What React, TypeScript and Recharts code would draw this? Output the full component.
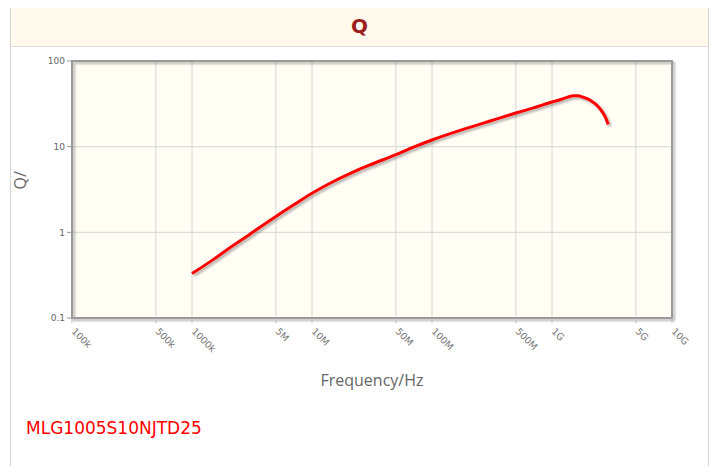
import { LineChart, Line, XAxis, YAxis, CartesianGrid, ReferenceArea, Label } from 'recharts';

const freqs = [1e6, 1.5e6, 2e6, 3e6, 5e6, 7e6, 1e7, 1.4e7, 2.2e7, 3e7, 5e7, 7e7, 1e8, 2e8, 3e8, 5e8, 7e8, 1e9, 1.2e9, 1.35e9, 1.5e9, 1.65e9, 1.8e9, 2.07e9, 2.5e9, 2.77e9, 2.94e9];
const qValues = [0.33, 0.48, 0.64, 0.94, 1.53, 2.08, 2.86, 3.72, 5.05, 6.08, 8.05, 9.86, 11.97, 16.6, 19.8, 24.7, 28.4, 33.2, 35.8, 37.9, 39.2, 39.2, 37.9, 35, 28, 22.4, 18.2];

const xTicks = [1e5, 5e5, 1e6, 5e6, 1e7, 5e7, 1e8, 5e8, 1e9, 5e9, 1e10];
const xTickLabels = ['100k', '500k', '1000k', '5M', '10M', '50M', '100M', '500M', '1G', '5G', '10G'];
const yTicks = [0.1, 1, 10, 100];
const yTickLabels = ['0.1', '1', '10', '100'];

const data = freqs.map((f, i) => ({ f, q: qValues[i] }));

const XTick = ({ x, y, payload }: any) => {
  const i = xTicks.indexOf(payload.value);
  return (
    <text transform={`translate(${x - 1},${y + 7}) rotate(45)`} textAnchor="start" fontSize={9.5} fill="#777" fontFamily="DejaVu Sans">
      {xTickLabels[i]}
    </text>
  );
};

const App = () => (
  <div style={{ position: 'relative', width: 717, height: 474, margin: -8 }}>
    <div style={{ position: 'absolute', left: 10, top: 4, width: 699, height: 468, boxSizing: 'border-box', border: '1px solid #d4d4d4', background: '#fff' }}>
      <div style={{ height: 41, background: '#fffaec', borderBottom: '1px solid #ddd', textAlign: 'center', lineHeight: '42px', fontFamily: 'DejaVu Sans', fontWeight: 'bold', fontSize: 20, color: '#9b1d1d' }}>
        Q
      </div>
      <div style={{ position: 'absolute', left: 15, top: 413, fontFamily: 'DejaVu Sans', fontSize: 17, color: '#f00' }}>
        MLG1005S10NJTD25
      </div>
    </div>
    <div style={{ position: 'absolute', left: 0, top: 0 }}>
      <LineChart width={717} height={474} data={data} margin={{ top: 61, right: 45, bottom: 96, left: 12 }}>
        <defs>
          <filter id="shadow" x="-5%" y="-5%" width="115%" height="120%">
            <feDropShadow dx="2" dy="2" stdDeviation="1.2" floodColor="#000" floodOpacity="0.3" />
          </filter>
        </defs>
        <CartesianGrid stroke="#d6d6d6" strokeWidth={1} fill="#fffdf4" fillOpacity={1} />
        <ReferenceArea x1={1e5} x2={1e10} y1={0.1} y2={100} fill="none" stroke="#999" strokeWidth={2} style={{ filter: 'url(#shadow)' }} ifOverflow="visible" />
        <XAxis
          dataKey="f"
          type="number"
          scale="log"
          domain={[1e5, 1e10]}
          ticks={xTicks}
          interval={0}
          allowDataOverflow
          height={60}
          axisLine={false}
          tickLine={{ stroke: '#bbb' }}
          tickSize={5}
          tick={<XTick />}
        >
          <Label value="Frequency/Hz" position="insideBottom" offset={-8} fill="#666" fontSize={16} fontFamily="Open Sans" />
        </XAxis>
        <YAxis
          type="number"
          scale="log"
          domain={[0.1, 100]}
          ticks={yTicks}
          interval={0}
          allowDataOverflow
          width={60}
          axisLine={false}
          tickLine={{ stroke: '#999' }}
          tickSize={5}
          tickMargin={2}
          tick={{ fontSize: 9, fill: '#666', fontFamily: 'DejaVu Sans' }}
          tickFormatter={(v: number) => yTickLabels[yTicks.indexOf(v)]}
        >
          <Label value="Q/" angle={-90} position="insideLeft" offset={8} fill="#666" fontSize={16} fontFamily="Open Sans" />
        </YAxis>
        <Line
          dataKey="q"
          type="monotone"
          stroke="#ff0000"
          strokeWidth={3}
          dot={false}
          isAnimationActive={false}
          style={{ filter: 'url(#shadow)' }}
        />
      </LineChart>
    </div>
  </div>
);

export default App;
